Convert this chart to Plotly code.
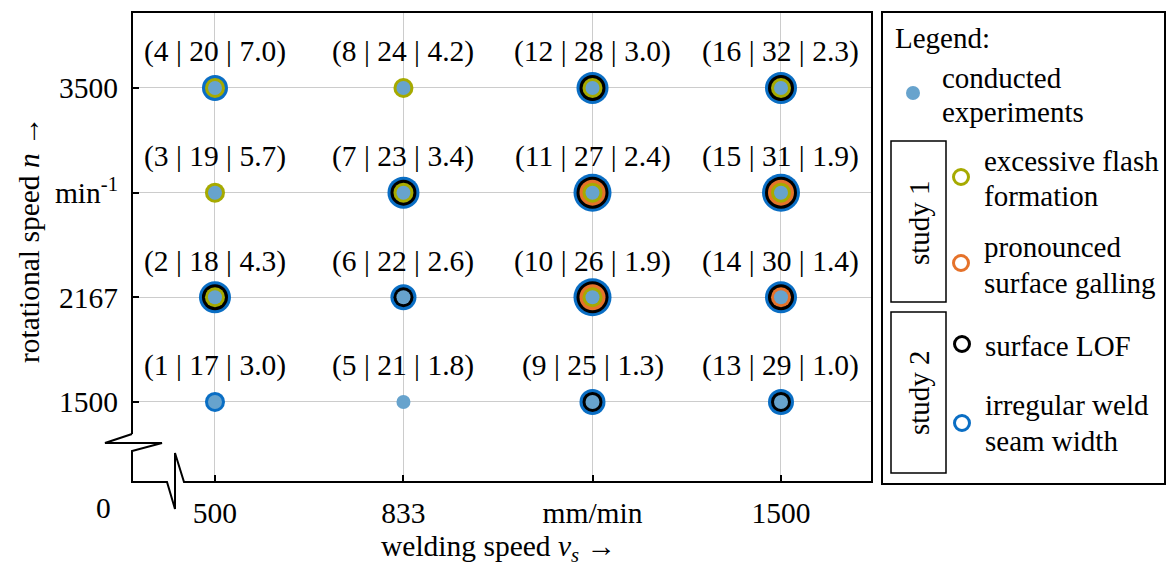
import plotly.graph_objects as go

# ---------------- data ----------------
vs_ticks = [500, 833, 1167, 1500]
vs_ticktext = ["500", "833", "mm/min", "1500"]
n_ticks = [1500, 2167, 2833, 3500]
n_ticktext = ["1500", "2167", "min<sup>-1</sup>", "3500"]

exp_vs = [500, 500, 500, 500, 833, 833, 833, 833,
          1167, 1167, 1167, 1167, 1500, 1500, 1500, 1500]
exp_n = [1500, 2167, 2833, 3500, 1500, 2167, 2833, 3500,
         1500, 2167, 2833, 3500, 1500, 2167, 2833, 3500]
exp_id1 = [1, 2, 3, 4, 5, 6, 7, 8, 9, 10, 11, 12, 13, 14, 15, 16]
exp_id2 = [17, 18, 19, 20, 21, 22, 23, 24, 25, 26, 27, 28, 29, 30, 31, 32]
exp_ratio = [3.0, 4.3, 5.7, 7.0, 1.8, 2.6, 3.4, 4.2,
             1.3, 1.9, 2.4, 3.0, 1.0, 1.4, 1.9, 2.3]

flash = [0, 1, 1, 1, 0, 0, 1, 1, 0, 1, 1, 1, 0, 0, 1, 1]
galling = [0, 0, 0, 0, 0, 0, 0, 0, 0, 1, 1, 0, 0, 1, 1, 0]
lof = [0, 1, 0, 0, 0, 1, 1, 0, 1, 1, 1, 1, 1, 1, 1, 1]
irregular = [1, 1, 0, 1, 0, 1, 1, 0, 1, 1, 1, 1, 1, 1, 1, 1]

# ---------------- styles ----------------
FONT = "Liberation Serif, Times New Roman, serif"
FS = 29.5
FS_LEG = 29
C_DOT = "#67a3cd"
C_FLASH = "#a6aa00"
C_GALL = "#e5722a"
C_LOF = "#000000"
C_IRR = "#0a6ec4"
DOT_SIZE = 14
RING_STEP = 6

# plot area in pixels
L, R, T, B = 132, 872, 12, 482
W, H = 1173, 565


def px(x):
    return (x - L) / (R - L)


def py(y):
    return (B - y) / (B - T)


fig = go.Figure()

# layered rings
flag_sets = [(flash, C_FLASH), (galling, C_GALL), (lof, C_LOF), (irregular, C_IRR)]
layers = []
for i in range(len(exp_vs)):
    layers.append([c for f, c in flag_sets if f[i]])

for k in range(4, 0, -1):
    xs, ys, cs = [], [], []
    for i in range(len(exp_vs)):
        if len(layers[i]) >= k:
            xs.append(exp_vs[i])
            ys.append(exp_n[i])
            cs.append(layers[i][k - 1])
    if xs:
        fig.add_trace(go.Scatter(
            x=xs, y=ys, mode="markers", hoverinfo="skip", showlegend=False,
            marker=dict(size=DOT_SIZE + RING_STEP * k, color=cs, line=dict(width=0)),
            cliponaxis=False))

fig.add_trace(go.Scatter(
    x=exp_vs, y=exp_n, mode="markers", showlegend=False,
    marker=dict(size=DOT_SIZE, color=C_DOT, line=dict(width=0)),
    cliponaxis=False))

annotations = []
for i in range(len(exp_vs)):
    annotations.append(dict(
        x=exp_vs[i], y=exp_n[i], xref="x", yref="y", yshift=36,
        text=f"({exp_id1[i]} | {exp_id2[i]} | {exp_ratio[i]:.1f})",
        showarrow=False, font=dict(family=FONT, size=FS, color="black")))


def txt(x, y, s, xanchor="left", angle=0, size=FS_LEG):
    annotations.append(dict(
        x=px(x), y=py(y), xref="paper", yref="paper", text=s, showarrow=False,
        xanchor=xanchor, yanchor="middle", textangle=angle,
        font=dict(family=FONT, size=size, color="black")))


# axis titles & extras
txt(498, 548, "welding speed <i>v<sub>s</sub></i> →", xanchor="center", size=FS)
txt(29, 240, "rotational speed <i>n</i> →", xanchor="center", angle=-90, size=FS)
txt(103, 508, "0", xanchor="center", size=FS)

# legend texts
txt(893, 38, "Legend:")
txt(940, 78, "conducted")
txt(940, 112, "experiments")
txt(982, 161, "excessive flash")
txt(982, 196, "formation")
txt(982, 247, "pronounced")
txt(982, 283, "surface galling")
txt(983, 346, "surface LOF")
txt(983, 405, "irregular weld")
txt(983, 441, "seam width")
txt(919, 222, "study 1", xanchor="center", angle=-90)
txt(919, 392, "study 2", xanchor="center", angle=-90)

shapes = []
# frame with axis breaks
pts = [(132, 434), (132, 12), (872, 12), (872, 482), (184, 482), (175, 453),
       (175, 509), (167, 482), (132, 482), (132, 451), (162, 443), (105, 443),
       (132, 434)]
path = "M " + " L ".join(f"{px(a):.5f},{py(b):.5f}" for a, b in pts)
shapes.append(dict(type="path", path=path, xref="paper", yref="paper",
                   line=dict(color="black", width=2)))


def rect(x0, y0, x1, y1, w=2):
    shapes.append(dict(type="rect", xref="paper", yref="paper",
                       x0=px(x0), x1=px(x1), y0=py(y1), y1=py(y0),
                       line=dict(color="black", width=w)))


rect(882, 12, 1165, 484, 2)
rect(891, 141, 946, 302, 1.5)
rect(891, 312, 946, 473, 1.5)


def circ(x, y, d, fill=None, line=None):
    shapes.append(dict(type="circle", xref="paper", yref="paper",
                       xsizemode="pixel", ysizemode="pixel",
                       xanchor=px(x), yanchor=py(y),
                       x0=-d / 2, x1=d / 2, y0=-d / 2, y1=d / 2,
                       fillcolor=fill if fill else "rgba(0,0,0,0)",
                       line=dict(color=line if line else "rgba(0,0,0,0)",
                                 width=3 if line else 0)))


circ(913, 93, 14, fill=C_DOT)
circ(961, 177, 15, line=C_FLASH)
circ(961, 263, 15, line=C_GALL)
circ(962, 344, 15, line=C_LOF)
circ(962, 423, 15, line=C_IRR)

axis_common = dict(
    ticks="inside", ticklen=7, tickwidth=2, tickcolor="black",
    showgrid=True, gridcolor="#cccccc", gridwidth=1,
    showline=False, zeroline=False,
    tickfont=dict(family=FONT, size=FS, color="black"))

fig.update_layout(
    width=W, height=H,
    margin=dict(l=L, r=W - R, t=T, b=H - B),
    paper_bgcolor="white", plot_bgcolor="white",
    xaxis=dict(range=[353.4, 1660.8], tickvals=vs_ticks, ticktext=vs_ticktext,
               ticklabelstandoff=10, **axis_common),
    yaxis=dict(range=[990, 3984], tickvals=n_ticks, ticktext=n_ticktext,
               ticklabelstandoff=13, **axis_common),
    annotations=annotations, shapes=shapes, showlegend=False,
    font=dict(family=FONT, size=FS, color="black"),
)

fig.write_html("out.html")
